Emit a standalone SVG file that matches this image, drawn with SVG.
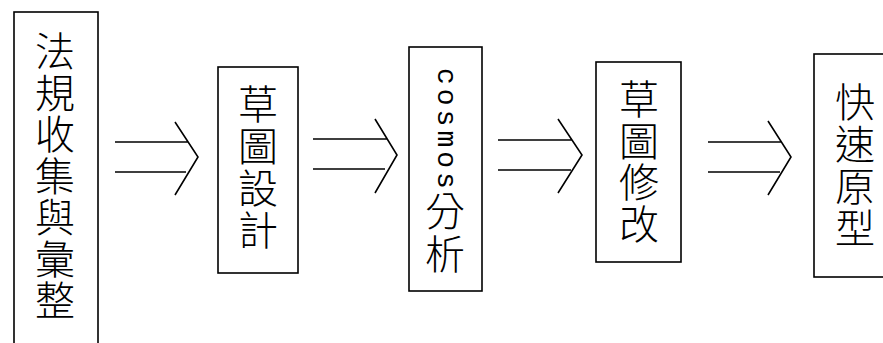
<svg xmlns="http://www.w3.org/2000/svg" width="883" height="343" viewBox="0 0 883 343">
<style>
.box{fill:#fff;stroke:#000;stroke-width:1.6}
.ln{fill:none;stroke:#000;stroke-width:1.6}
.cjk{font-family:"Noto Sans CJK TC","Noto Sans CJK SC",sans-serif;font-size:40px;fill:#000;text-anchor:middle;font-weight:300}
.lat{font-family:"Liberation Mono",monospace;font-size:28px;letter-spacing:4px;fill:#000}
</style>
<rect width="883" height="343" fill="#fff"/>
<g id="n1">
<rect class="box" x="14" y="12" width="84" height="340"/>
<text class="cjk" x="55" y="66">法</text>
<text class="cjk" x="55" y="107.5">規</text>
<text class="cjk" x="55" y="149">收</text>
<text class="cjk" x="55" y="190.5">集</text>
<text class="cjk" x="55" y="232">與</text>
<text class="cjk" x="55" y="273.5">彙</text>
<text class="cjk" x="55" y="315">整</text>
</g>
<g id="n2">
<rect class="box" x="218" y="67" width="80" height="206"/>
<text class="cjk" x="258" y="119">草</text>
<text class="cjk" x="258" y="161">圖</text>
<text class="cjk" x="258" y="203">設</text>
<text class="cjk" x="258" y="245">計</text>
</g>
<g id="n3">
<rect class="box" x="409" y="47" width="73" height="244"/>
<text class="lat" transform="translate(438,68) rotate(90)">cosmos</text>
<text class="cjk" x="445" y="226">分</text>
<text class="cjk" x="445" y="269">析</text>
</g>
<g id="n4">
<rect class="box" x="596" y="62" width="85" height="200"/>
<text class="cjk" x="639" y="114">草</text>
<text class="cjk" x="639" y="155.7">圖</text>
<text class="cjk" x="639" y="197.4">修</text>
<text class="cjk" x="639" y="239">改</text>
</g>
<g id="n5">
<rect class="box" x="814" y="54" width="80" height="223"/>
<text class="cjk" x="855" y="117">快</text>
<text class="cjk" x="855" y="159">速</text>
<text class="cjk" x="855" y="201">原</text>
<text class="cjk" x="855" y="243">型</text>
</g>
<g id="connectors">
<path class="ln" d="M115 142H188M115 172H186M175 122L198 157L175 195"/>
<path class="ln" d="M313 139H387M313 169H385M375 119L397 155L375 193"/>
<path class="ln" d="M498 140H572M498 170H571M558 119L582 155L558 193"/>
<path class="ln" d="M708 142H781M708 172H780M768 121L791 157L768 195"/>
</g>
</svg>
